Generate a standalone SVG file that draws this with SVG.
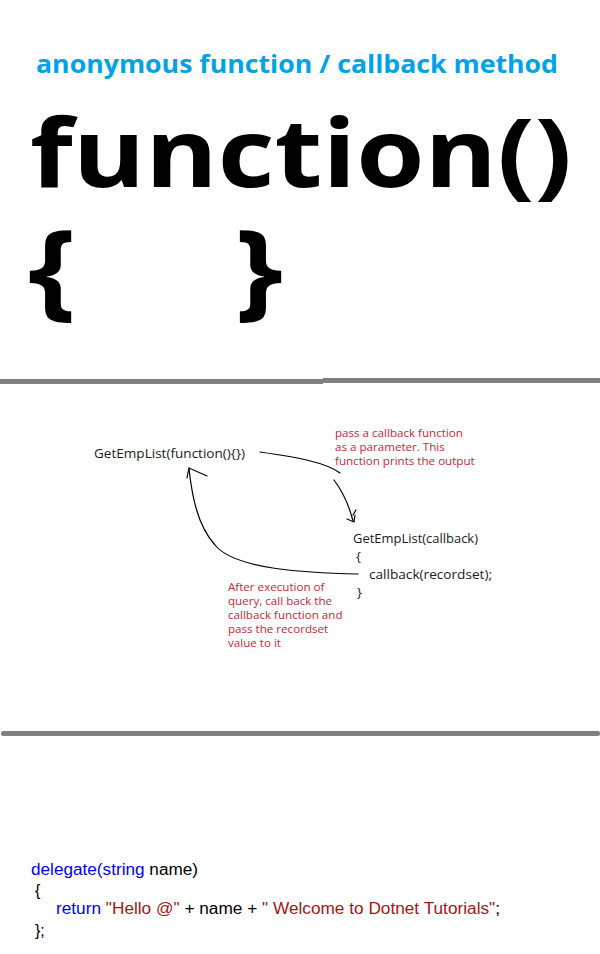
<svg xmlns="http://www.w3.org/2000/svg" width="600" height="954" viewBox="0 0 600 954">
<style>
.title{font-family:"Open Sans","DejaVu Sans",sans-serif;font-weight:bold;fill:#00a2e8;font-size:25px}
.big{font-family:"Open Sans","DejaVu Sans",sans-serif;font-weight:bold;fill:#000}
.code{font-family:"Open Sans","Noto Sans",sans-serif;font-size:13px;fill:#1a1a1a}
.note{font-family:"Open Sans","Noto Sans",sans-serif;font-size:11.6px;fill:#c8283a}
.cs{font-family:"Liberation Sans",Arial,sans-serif;font-size:16px;fill:#000}
.kw{fill:#0000ff}
.str{fill:#a31515}
.sep{fill:#808080}
.conn{fill:none;stroke:#000;stroke-width:1.2;stroke-linecap:round}
</style>
<rect width="600" height="954" fill="#fff"/>
<g id="header">
<text class="title" x="36" y="73" textLength="522" lengthAdjust="spacingAndGlyphs">anonymous function / callback method</text>
<text class="big" x="30" y="187" font-size="90" transform="translate(0,187) scale(1,1.06) translate(0,-187)" textLength="542" lengthAdjust="spacingAndGlyphs">function()</text>
<text class="big" font-size="106" transform="translate(28,306) scale(1.15,1)">{</text>
<text class="big" font-size="106" transform="translate(235,306) scale(1.15,1)">}</text>
</g>
<rect class="sep" x="0" y="379" width="323" height="5"/>
<rect class="sep" x="323" y="378" width="277" height="5"/>
<g id="caller">
<text class="code" x="94" y="458" textLength="151" lengthAdjust="spacingAndGlyphs">GetEmpList(function(){})</text>
</g>
<g id="note-pass">
<text class="note" x="335" y="437">pass a callback function</text>
<text class="note" x="335" y="451">as a parameter. This</text>
<text class="note" x="335" y="465">function prints the output</text>
</g>
<g id="callee">
<text class="code" x="353" y="543" textLength="125" lengthAdjust="spacingAndGlyphs">GetEmpList(callback)</text>
<text class="code" x="356" y="561">{</text>
<text class="code" x="369" y="579" textLength="123" lengthAdjust="spacingAndGlyphs">callback(recordset);</text>
<text class="code" x="357" y="597">}</text>
</g>
<g id="note-after">
<text class="note" x="228" y="591">After execution of</text>
<text class="note" x="228" y="605">query, call back the</text>
<text class="note" x="228" y="619">callback function and</text>
<text class="note" x="228" y="633">pass the recordset</text>
<text class="note" x="228" y="647">value to it</text>
</g>
<g id="connectors">
<path class="conn" d="M260,452 C295,457 325,462 340,473 M334,480 C343,492 349,505 353,521"/>
<path class="conn" d="M347,519 L354,522 L355,515 M353,515 L356,510"/>
<path class="conn" d="M358,574 C310,573 235,570 215,545 C197,525 192,495 189,469"/>
<path class="conn" d="M187,478 L189,468 L207,476"/>
</g>
<rect class="sep" x="1" y="731" width="599" height="5" rx="2"/>
<g id="delegate">
<text class="cs" x="31" y="875" textLength="167" lengthAdjust="spacingAndGlyphs"><tspan class="kw">delegate(string</tspan>  name)</text>
<text class="cs" x="35" y="896">{</text>
<text class="cs" x="56" y="914" textLength="444" lengthAdjust="spacingAndGlyphs"><tspan class="kw">return</tspan> <tspan class="str">"Hello @"</tspan> + name + <tspan class="str">" Welcome to Dotnet Tutorials"</tspan>;</text>
<text class="cs" x="35" y="936">};</text>
</g>
</svg>
